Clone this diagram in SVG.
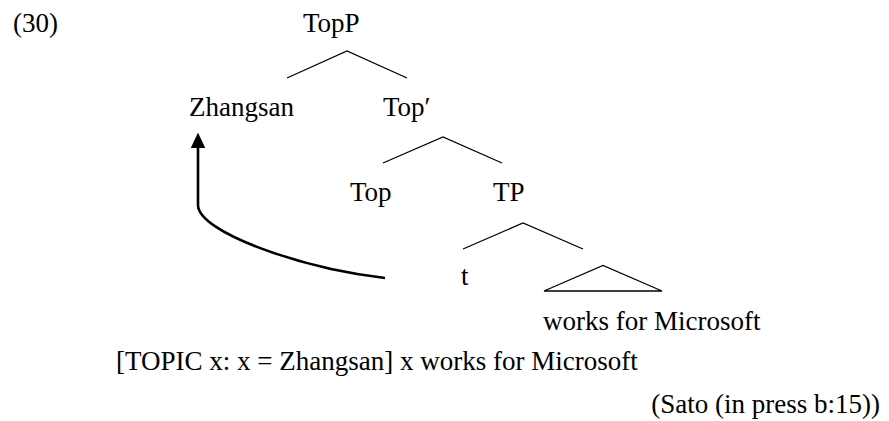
<svg xmlns="http://www.w3.org/2000/svg" width="889" height="421" viewBox="0 0 889 421">
<style>
text{font-family:"Liberation Serif","Times New Roman",serif;font-size:27px;fill:#000}
.br{fill:none;stroke:#000;stroke-width:1.3}
.mv{fill:none;stroke:#000;stroke-width:2.6}
</style>
<defs>
<marker id="ah" markerWidth="6" markerHeight="5.6" refX="2" refY="2.8" orient="auto" markerUnits="strokeWidth"><path d="M0,0 L6,2.8 L0,5.6 Z" fill="#000"/></marker>
</defs>
<rect width="889" height="421" fill="#fff"/>
<g id="label"><text x="13" y="32">(30)</text></g>
<g id="TopP"><text x="303" y="32">TopP</text></g>
<g id="Zhangsan"><text x="189" y="116">Zhangsan</text></g>
<g id="TopBar"><text x="383" y="116">Top′</text></g>
<g id="Top"><text x="350" y="201">Top</text></g>
<g id="TP"><text x="493" y="201">TP</text></g>
<g id="t"><text x="461" y="285">t</text></g>
<g id="VP"><polygon class="br" points="544,291 603,265.5 662,291"/><text x="543" y="330">works for Microsoft</text></g>
<g id="connectors">
<polyline class="br" points="287,78 347,51 407,78"/>
<polyline class="br" points="383,163 443,137 502,163"/>
<polyline class="br" points="463,249 523,223 583,249"/>
<path class="mv" d="M385,278 C300,268 198,232 198,205 L198,143" marker-end="url(#ah)"/>
</g>
<g id="semantics"><text x="116" y="370">[TOPIC x: x = Zhangsan] x works for Microsoft</text></g>
<g id="source"><text x="880" y="413" text-anchor="end">(Sato (in press b:15))</text></g>
</svg>
